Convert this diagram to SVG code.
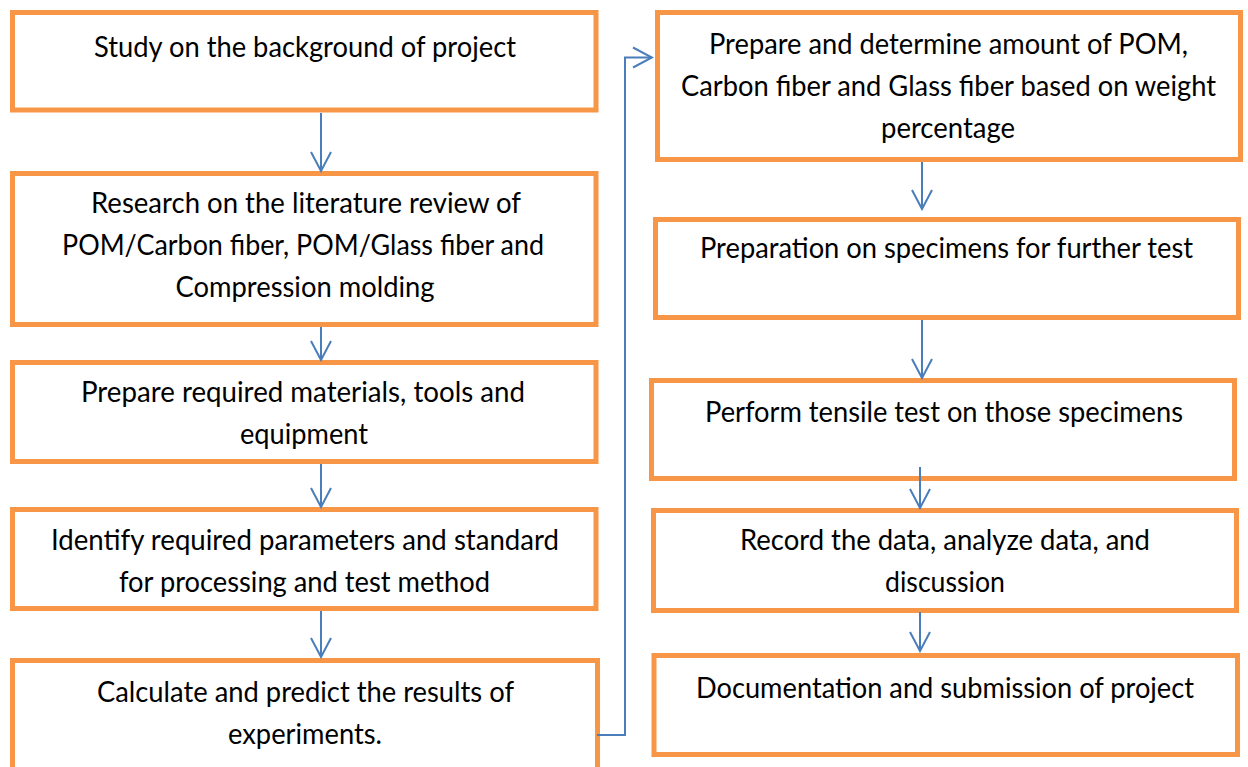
<svg xmlns="http://www.w3.org/2000/svg" width="1248" height="767" viewBox="0 0 1248 767">
  <style>
    .box { fill: #ffffff; stroke: #f79646; stroke-width: 5; stroke-linejoin: miter; }
    .lbl { font-family: Lato, "Open Sans", "Liberation Sans", sans-serif; font-size: 28px; fill: #000000; text-anchor: middle; }
    .link { fill: none; stroke: #4a7ebb; stroke-width: 2; }
  </style>
  <defs>
    <marker id="open-arrow" markerUnits="userSpaceOnUse" viewBox="-21 -12 23 24" markerWidth="23" markerHeight="24" refX="0" refY="0" orient="auto">
      <path d="M-19,-10 L0,0 L-19,10" fill="none" stroke="#4a7ebb" stroke-width="2"/>
    </marker>
  </defs>

  <rect width="1248" height="767" fill="#ffffff"/>

  <!-- left column -->
  <g id="step-background">
    <rect class="box" x="12.5" y="12.5" width="583.5" height="97.5"/>
    <text class="lbl" x="305" y="57" textLength="422" lengthAdjust="spacingAndGlyphs">Study on the background of project</text>
  </g>
  <g id="step-literature">
    <rect class="box" x="12.5" y="173.5" width="583.5" height="151"/>
    <text class="lbl" x="306" y="213" textLength="430" lengthAdjust="spacingAndGlyphs">Research on the literature review of</text>
    <text class="lbl" x="303" y="255" textLength="482" lengthAdjust="spacingAndGlyphs">POM/Carbon fiber, POM/Glass fiber and</text>
    <text class="lbl" x="305" y="297" textLength="259" lengthAdjust="spacingAndGlyphs">Compression molding</text>
  </g>
  <g id="step-materials">
    <rect class="box" x="12.5" y="362.5" width="583.5" height="99"/>
    <text class="lbl" x="303" y="402" textLength="444" lengthAdjust="spacingAndGlyphs">Prepare required materials, tools and</text>
    <text class="lbl" x="304" y="444" textLength="128" lengthAdjust="spacingAndGlyphs">equipment</text>
  </g>
  <g id="step-parameters">
    <rect class="box" x="12.5" y="509.5" width="583.5" height="99"/>
    <text class="lbl" x="305" y="550" textLength="508" lengthAdjust="spacingAndGlyphs">Identify required parameters and standard</text>
    <text class="lbl" x="304.5" y="592" textLength="371" lengthAdjust="spacingAndGlyphs">for processing and test method</text>
  </g>
  <g id="step-calculate">
    <rect class="box" x="12.5" y="660.5" width="585" height="130"/>
    <text class="lbl" x="305.5" y="702" textLength="417" lengthAdjust="spacingAndGlyphs">Calculate and predict the results of</text>
    <text class="lbl" x="305" y="744" textLength="154" lengthAdjust="spacingAndGlyphs">experiments.</text>
  </g>

  <!-- right column -->
  <g id="step-amounts">
    <rect class="box" x="657.5" y="12.5" width="583" height="147"/>
    <text class="lbl" x="948.5" y="54" textLength="479" lengthAdjust="spacingAndGlyphs">Prepare and determine amount of POM,</text>
    <text class="lbl" x="948.5" y="96" textLength="535" lengthAdjust="spacingAndGlyphs">Carbon fiber and Glass fiber based on weight</text>
    <text class="lbl" x="948" y="138" textLength="134" lengthAdjust="spacingAndGlyphs">percentage</text>
  </g>
  <g id="step-specimens">
    <rect class="box" x="655.5" y="219.5" width="583" height="98"/>
    <text class="lbl" x="946.5" y="258" textLength="493" lengthAdjust="spacingAndGlyphs">Preparation on specimens for further test</text>
  </g>
  <g id="step-tensile">
    <rect class="box" x="651.5" y="380.5" width="583" height="98"/>
    <text class="lbl" x="944" y="422" textLength="478" lengthAdjust="spacingAndGlyphs">Perform tensile test on those specimens</text>
  </g>
  <g id="step-record">
    <rect class="box" x="653.5" y="510.5" width="583" height="100"/>
    <text class="lbl" x="945" y="550" textLength="410" lengthAdjust="spacingAndGlyphs">Record the data, analyze data, and</text>
    <text class="lbl" x="945" y="592" textLength="120" lengthAdjust="spacingAndGlyphs">discussion</text>
  </g>
  <g id="step-documentation">
    <rect class="box" x="654" y="655.5" width="583.5" height="99"/>
    <text class="lbl" x="945" y="698" textLength="498" lengthAdjust="spacingAndGlyphs">Documentation and submission of project</text>
  </g>

  <!-- connectors -->
  <g id="connectors">
    <line class="link" x1="321" y1="113" x2="321" y2="171" marker-end="url(#open-arrow)"/>
    <line class="link" x1="321" y1="327" x2="321" y2="360" marker-end="url(#open-arrow)"/>
    <line class="link" x1="321" y1="464" x2="321" y2="507" marker-end="url(#open-arrow)"/>
    <line class="link" x1="321" y1="611" x2="321" y2="657" marker-end="url(#open-arrow)"/>
    <polyline class="link" points="597,735 625,735 625,57.5 652,57.5" marker-end="url(#open-arrow)"/>
    <line class="link" x1="922" y1="162" x2="922" y2="209" marker-end="url(#open-arrow)"/>
    <line class="link" x1="922" y1="320" x2="922" y2="378" marker-end="url(#open-arrow)"/>
    <line class="link" x1="920" y1="467" x2="920" y2="508" marker-end="url(#open-arrow)"/>
    <line class="link" x1="920" y1="612" x2="920" y2="651" marker-end="url(#open-arrow)"/>
  </g>
</svg>
